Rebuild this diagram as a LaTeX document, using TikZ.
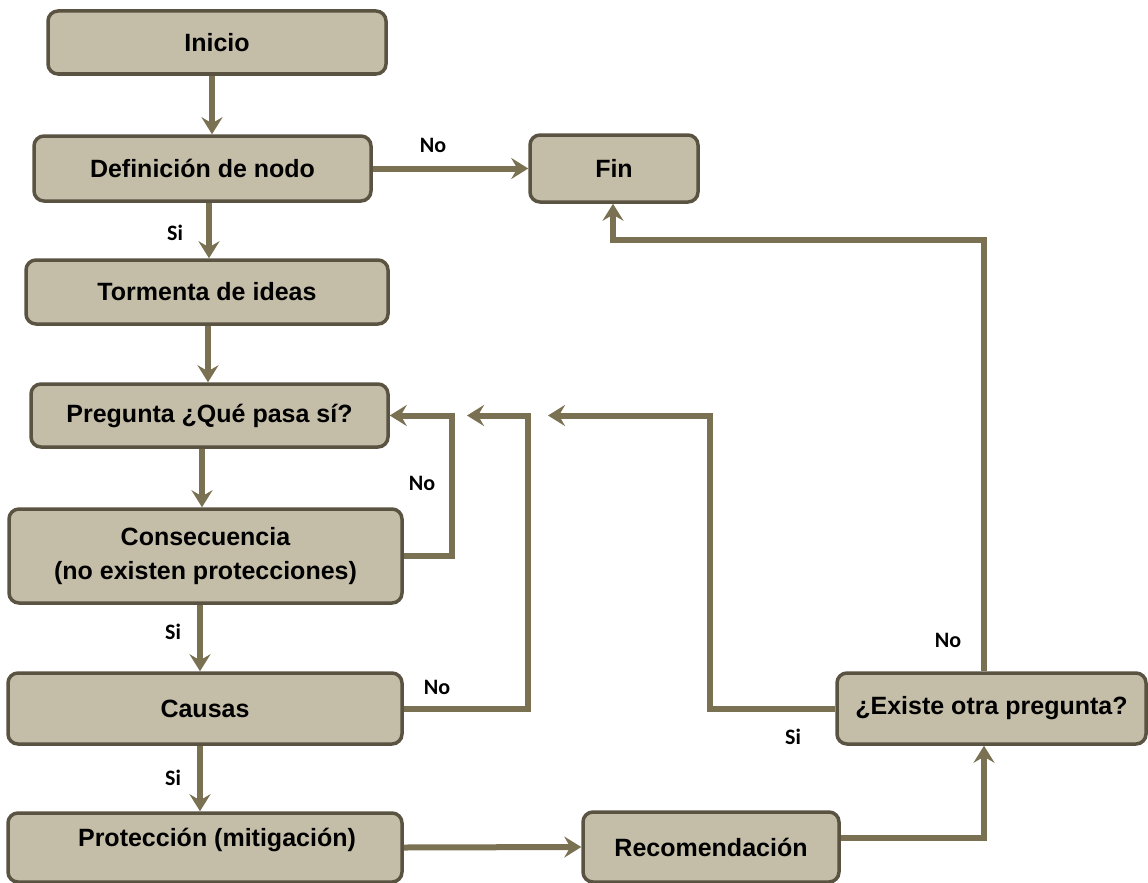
\documentclass[tikz,border=0pt]{standalone}
\usepackage{fontspec}
\setmainfont{Liberation Sans}
\newfontfamily\labfont{Carlito}
\usetikzlibrary{arrows.meta}
\definecolor{boxfill}{HTML}{C4BDA8}
\definecolor{boxdraw}{HTML}{5A5342}
\definecolor{lineC}{HTML}{7A7052}
\tikzset{
  box/.style={draw=boxdraw, fill=boxfill, line width=3.5pt, rounded corners=10pt,
    align=center, inner sep=0pt, font=\fontsize{25}{34}\selectfont\bfseries},
  arr/.style={draw=lineC, line width=6pt, -{Stealth[length=17pt,width=21pt,inset=6pt]}},
  lab/.style={font=\labfont\fontsize{22}{26}\selectfont\bfseries, inner sep=0pt}
}
\begin{document}
\begin{tikzpicture}[x=1pt,y=-1pt]
\useasboundingbox (0,0) rectangle (1148,883);
% boxes
\node[box, minimum width=338pt, minimum height=63pt] (inicio) at (217,42.5) {Inicio};
\node[box, minimum width=337pt, minimum height=65pt] (def) at (202.5,168.5) {Definición de nodo};
\node[box, minimum width=168pt, minimum height=67pt] (fin) at (614,168.5) {Fin};
\node[box, minimum width=362pt, minimum height=64pt] (torm) at (207,292) {Tormenta de ideas};
\node[box, minimum width=357pt, minimum height=63pt] (preg) at (209.5,415.5) {Pregunta ¿Qué pasa sí?};
\node[box, minimum width=393pt, minimum height=94pt] (cons) at (205.5,556) {Consecuencia\\(no existen protecciones)};
\node[box, minimum width=394pt, minimum height=71pt] (caus) at (205,708.5) {Causas};
\node[box, minimum width=394pt, minimum height=69pt] (prot) at (205,847.5) {\hspace*{24pt}Protección (mitigación)\\[-14pt]\mbox{}};
\node[box, minimum width=256pt, minimum height=70pt] (reco) at (711,847) {Recomendación};
\node[box, minimum width=309pt, minimum height=71pt] (exist) at (991.5,708.5) {¿Existe otra pregunta?};
% route coordinates
\coordinate (x212) at (212,0);
\coordinate (x209) at (209,0);
\coordinate (x208) at (208,0);
\coordinate (x202) at (202,0);
\coordinate (x200) at (200,0);
\coordinate (k1) at (452,500);
\coordinate (k2) at (528,600);
\coordinate (t2) at (467,415.5);
\coordinate (k4) at (710,600);
\coordinate (t4) at (548,415.5);
\coordinate (x984) at (984,0);
\coordinate (k3) at (613,240);
% connectors
\draw[arr] (inicio.south -| x212) -- (def.north -| x212);
\draw[arr] (def.east) -- (fin.west);
\draw[arr] (def.south -| x209) -- (torm.north -| x209);
\draw[arr] (torm.south -| x208) -- (preg.north -| x208);
\draw[arr] (preg.south -| x202) -- (cons.north -| x202);
\draw[arr] (cons.east) -| (k1) |- (preg.east);
\draw[arr] (cons.south -| x200) -- (caus.north -| x200);
\draw[arr] (caus.east) -| (k2) |- (t2);
\draw[arr] (caus.south -| x200) -- (prot.north -| x200);
\draw[arr] (prot.east) -- (reco.west);
\draw[arr] ([yshift=9pt]reco.east) -| (exist.south -| x984);
\draw[arr] (exist.north -| x984) |- (k3) -- (fin.south -| k3);
\draw[arr] (exist.west) -| (k4) |- (t4);
% labels
\node[lab] (l1) at (433,145) {No};
\node[lab] (l2) at (175,233) {Si};
\node[lab] (l3) at (422,483) {No};
\node[lab] (l4) at (173,632) {Si};
\node[lab] (l5) at (437,687) {No};
\node[lab] (l6) at (173,778) {Si};
\node[lab] (l7) at (793,737) {Si};
\node[lab] (l8) at (948,640) {No};
\end{tikzpicture}
\end{document}
